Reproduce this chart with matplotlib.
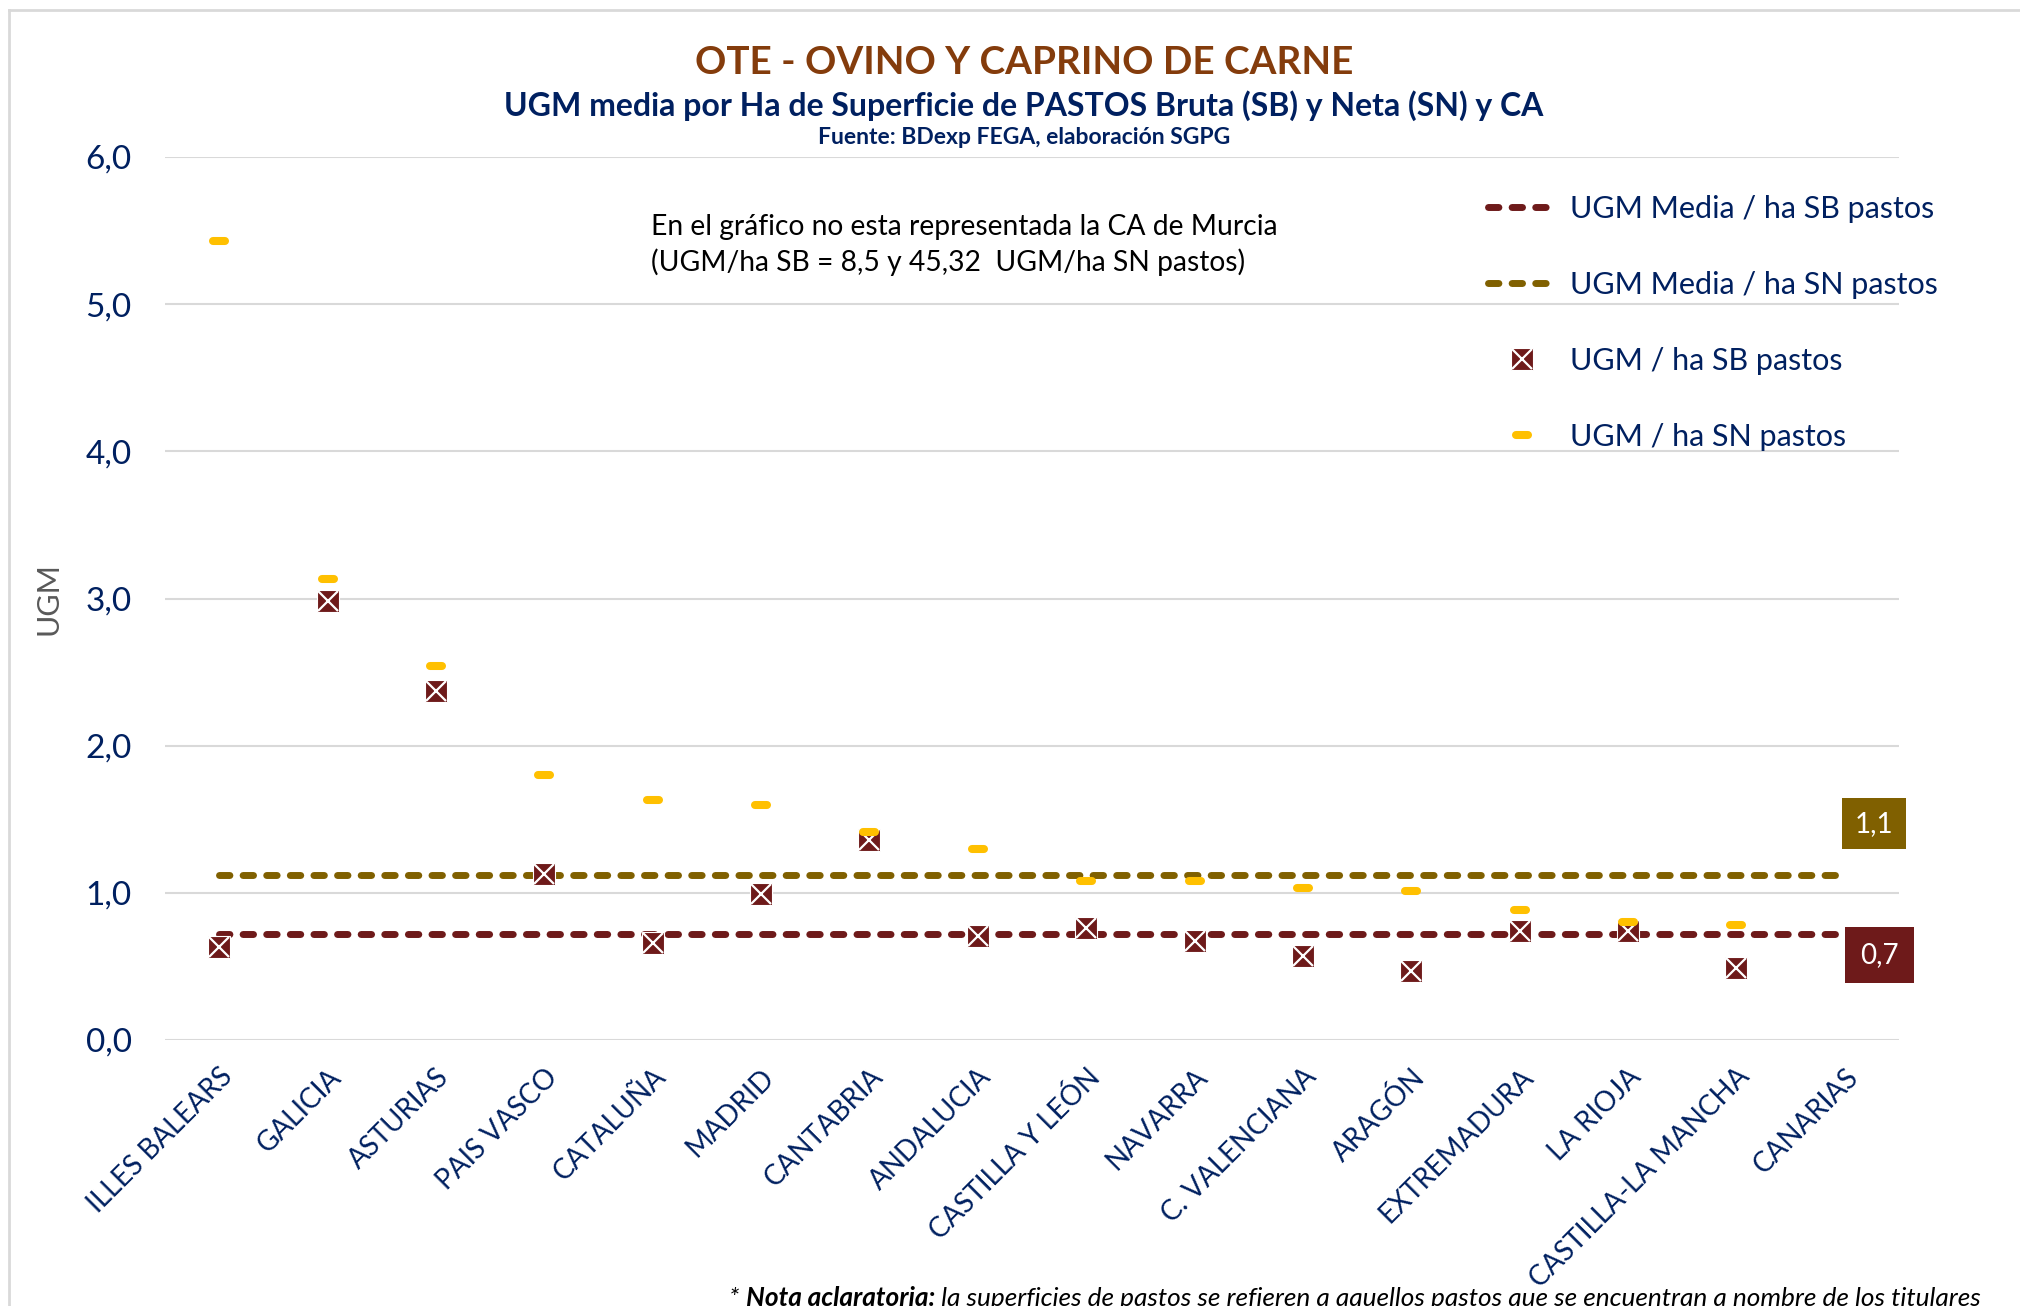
import matplotlib
matplotlib.use("Agg")
import matplotlib.pyplot as plt
from matplotlib.markers import MarkerStyle
from matplotlib.lines import Line2D

# Datos
comunidades = ["ILLES BALEARS", "GALICIA", "ASTURIAS", "PAIS VASCO", "CATALUÑA",
               "MADRID", "CANTABRIA", "ANDALUCIA", "CASTILLA Y LEÓN", "NAVARRA",
               "C. VALENCIANA", "ARAGÓN", "EXTREMADURA", "LA RIOJA",
               "CASTILLA-LA MANCHA", "CANARIAS"]
ugm_sb = [0.63, 2.98, 2.37, 1.13, 0.66, 0.99, 1.36, 0.71, 0.76, 0.67,
          0.57, 0.47, 0.74, 0.74, 0.49, None]
ugm_sn = [5.43, 3.13, 2.54, 1.80, 1.63, 1.60, 1.41, 1.30, 1.08, 1.08,
          1.03, 1.01, 0.88, 0.80, 0.78, None]
media_sb = 0.72
media_sn = 1.12
yticks = [0, 1, 2, 3, 4, 5, 6]

W, H = 2020, 1306
FONT = "Lato"
NAVY = "#002060"
C_SB = "#6E1A1A"
C_SN = "#806000"
C_YEL = "#FFC000"
GRID = "#D9D9D9"

plt.rcParams["font.family"] = [FONT, "DejaVu Sans"]


def fx(px):
    return px / W


def fy(py):
    return 1 - py / H


fig = plt.figure(figsize=(W / 100, H / 100), dpi=100)
ax = fig.add_axes([fx(165), fy(1040), fx(1899 - 165), (1040 - 157) / H])

x = list(range(len(comunidades)))
xs_sb = [i for i, v in zip(x, ugm_sb) if v is not None]
vs_sb = [v for v in ugm_sb if v is not None]
xs_sn = [i for i, v in zip(x, ugm_sn) if v is not None]
vs_sn = [v for v in ugm_sn if v is not None]

# lineas de media
dash = dict(lw=5, dashes=(1.5, 1.9), dash_capstyle="round", zorder=2)
l_sb, = ax.plot([0, len(comunidades) - 1], [media_sb, media_sb], color=C_SB, **dash)
l_sn, = ax.plot([0, len(comunidades) - 1], [media_sn, media_sn], color=C_SN, **dash)

# marcadores SB: cuadrado con aspa blanca
sq, = ax.plot(xs_sb, vs_sb, ls="none", marker="s", ms=16, mfc=C_SB, mec="white",
              mew=0.8, zorder=3)
cx, = ax.plot(xs_sb, vs_sb, ls="none", marker="x", ms=15, mec="white", mew=1.6,
              zorder=3.1)
# marcadores SN: guion amarillo
dash_mk = MarkerStyle("_", capstyle="round")
sn, = ax.plot(xs_sn, vs_sn, ls="none", marker=dash_mk, ms=8, mec=C_YEL, mew=5.8,
              zorder=4)

ax.set_xlim(-0.5, len(comunidades) - 0.5)
ax.set_ylim(0, 6)
ax.set_yticks(yticks)
ax.set_yticklabels([f"{v:.1f}".replace(".", ",") for v in yticks])
ax.set_xticks(x)
ax.set_xticklabels(comunidades, rotation=45, ha="right", rotation_mode="anchor")
ax.tick_params(axis="y", length=0, pad=24, labelsize=24, labelcolor=NAVY)
ax.tick_params(axis="x", length=0, pad=17, labelsize=20, labelcolor=NAVY)
ax.grid(axis="y", color=GRID, lw=1.5)
ax.set_axisbelow(True)
for s in ax.spines.values():
    s.set_visible(False)

# etiquetas de valor a la derecha
ax.annotate(f"{media_sn:.1f}".replace(".", ","), xy=(len(comunidades) - 1, media_sn),
            xytext=(21, 37), textcoords="offset points", ha="center", va="center",
            color="white", fontsize=20,
            bbox=dict(boxstyle="square,pad=0.45", fc=C_SN, ec="none"))
ax.annotate(f"{media_sb:.1f}".replace(".", ","), xy=(len(comunidades) - 1, media_sb),
            xytext=(25, -15), textcoords="offset points", ha="center", va="center",
            color="white", fontsize=20,
            bbox=dict(boxstyle="square,pad=0.55", fc=C_SB, ec="none"))

# leyenda
handles = [l_sb, l_sn, (sq, cx), sn]
labels = ["UGM Media / ha SB pastos", "UGM Media / ha SN pastos",
          "UGM / ha SB pastos", "UGM / ha SN pastos"]
fig.legend(handles, labels, loc="upper left", bbox_to_anchor=(fx(1488), fy(195)),
           frameon=False, fontsize=22, labelcolor=NAVY, handlelength=2.2,
           handletextpad=0.5, labelspacing=1.57, borderpad=0, borderaxespad=0)

# titulos
fig.text(fx(1024), fy(62), "OTE - OVINO Y CAPRINO DE CARNE", ha="center", va="center",
         fontsize=27.8, fontweight="bold", color="#843C0C")
fig.text(fx(1024), fy(106), "UGM media por Ha de Superficie de PASTOS Bruta (SB) y Neta (SN) y CA",
         ha="center", va="center", fontsize=23, fontweight="bold", color=NAVY)
fig.text(fx(1024), fy(137), "Fuente: BDexp FEGA, elaboración SGPG", ha="center",
         va="center", fontsize=16.5, fontweight="bold", color=NAVY)

fig.text(fx(49), fy(599), "UGM", rotation=90, ha="center", va="center",
         fontsize=22, color="#595959")

fig.text(fx(651), fy(245), "En el gráfico no esta representada la CA de Murcia\n"
         "(UGM/ha SB = 8,5 y 45,32  UGM/ha SN pastos)", ha="left", va="center",
         fontsize=20.3, color="black", linespacing=1.35)

# nota inferior (recortada)
t1 = fig.text(fx(729), fy(1306), "* ", ha="left", va="baseline", fontsize=18.9,
              style="italic", color="black")
t2 = fig.text(0, 0, "Nota aclaratoria:", fontsize=18.9, style="italic", fontweight="bold",
              color="black", va="baseline")
t3 = fig.text(0, 0, " la superficies de pastos se refieren a aquellos pastos que se encuentran a nombre de los titulares",
              fontsize=18.9, style="italic", color="black", va="baseline")
fig.canvas.draw()
r = fig.canvas.get_renderer()
bb1 = t1.get_window_extent(r)
t2.set_position((bb1.x1 / W, fy(1306)))
bb2 = t2.get_window_extent(r)
t3.set_position((bb2.x1 / W, fy(1306)))

# borde del grafico
fig.add_artist(Line2D([fx(9), fx(9)], [0, fy(10)], color=GRID, lw=2))
fig.add_artist(Line2D([fx(9), 1], [fy(10), fy(10)], color=GRID, lw=2))

fig.savefig("out.png", dpi=100)
